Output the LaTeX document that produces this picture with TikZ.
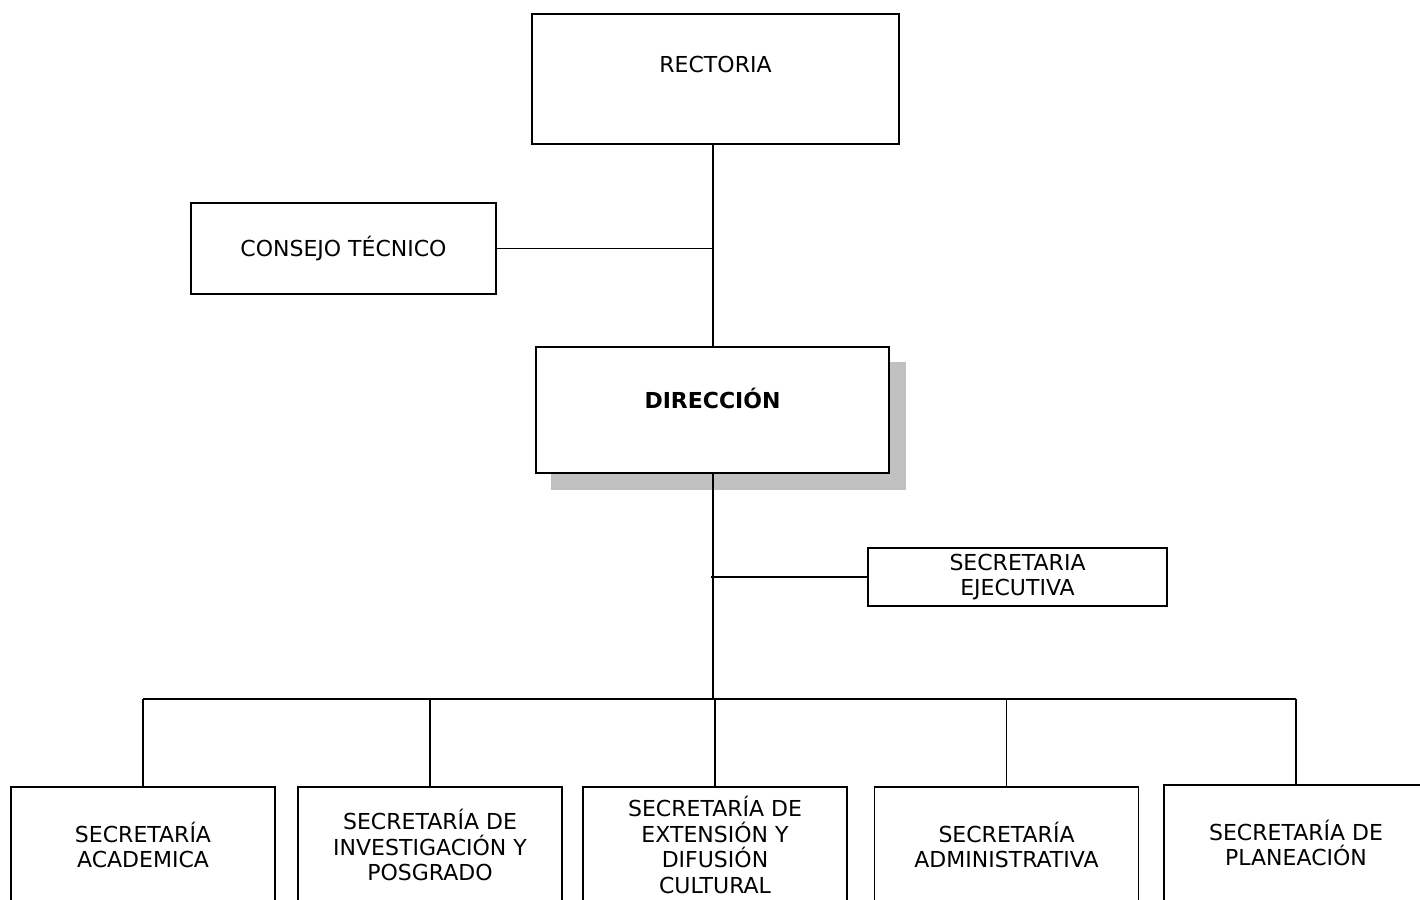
\documentclass[tikz,border=0pt]{standalone}
\usepackage{fontspec}
\setmainfont{DejaVu Sans}
\usepackage{xcolor}
\definecolor{cShadow}{HTML}{C0C0C0}
\usepackage{tikz}
\usetikzlibrary{positioning, backgrounds}

\begin{document}
\begin{tikzpicture}[
    x=1pt, y=-1pt,
    box/.style   = {draw, fill=white, line width=1.5pt, align=center, inner sep=2pt,
                    font=\fontsize{22}{25.5}\selectfont},
    secbox/.style = {box, minimum width=264pt, minimum height=116pt},
    conn/.style  = {line width=1.5pt}
]
\useasboundingbox (0,0) rectangle (1420,899);
\clip (0,0) rectangle (1420,899);

% --- Rectoria a Consejo ---------------------------------------------------
\node[box, minimum width=367pt, minimum height=130pt, text depth=30pt]
    (rect) at (715.5, 79) {RECTORIA};
\node[box, minimum width=305pt, minimum height=91pt]
    (cons) at (343.5, 248.5) {CONSEJO TÉCNICO};

% --- Direccion (se sombrou) ----------------------------------------------
\node[box, minimum width=353pt, minimum height=126pt, text depth=24pt,
      font=\fontsize{22}{25.5}\selectfont\bfseries]
    (dir) at (712.5, 410) {DIRECCIÓN};
\begin{scope}[on background layer]
  \fill[cShadow] ([shift={(16,16)}]dir.north west)
    rectangle ([shift={(16,16)}]dir.south east);
\end{scope}

\node[box, minimum width=299pt, minimum height=58pt]
    (sej) at (1017.5, 577) {SECRETARIA\\EJECUTIVA};

% --- Secretarias (dole) ----------------------------------------------------
\node[secbox] (acad) at (143, 845)    {SECRETARÍA\\ACADEMICA};
\node[secbox] (inv)  at (430, 845)    {SECRETARÍA DE\\INVESTIGACIÓN Y\\POSGRADO};
\node[secbox] (ext)  at (715, 845)    {SECRETARÍA DE\\EXTENSIÓN Y\\DIFUSIÓN\\CULTURAL};
\node[secbox] (adm)  at (1006.5, 845) {SECRETARÍA\\ADMINISTRATIVA};
\node[secbox] (plan) at (1296, 843)   {SECRETARÍA DE\\PLANEACIÓN};

\coordinate (bus) at (713, 699);

% --- Hrany -----------------------------------------------------------------
\draw[conn] (rect.south -| bus) -- (dir.north -| bus);
\draw[conn] (cons.east) -- (cons.east -| bus);
\draw[conn] (dir.south -| bus) -- (bus);
\draw[conn] (sej.west) -- ([xshift=-2pt]sej.west -| bus);

% sbernice a svislice ke kazde sekretarii
\draw[conn] (acad.north |- bus) -- (plan.north |- bus);
\foreach \n in {acad, inv, ext, adm, plan}
  \draw[conn] (\n.north) -- (\n.north |- bus);
\end{tikzpicture}
\end{document}
